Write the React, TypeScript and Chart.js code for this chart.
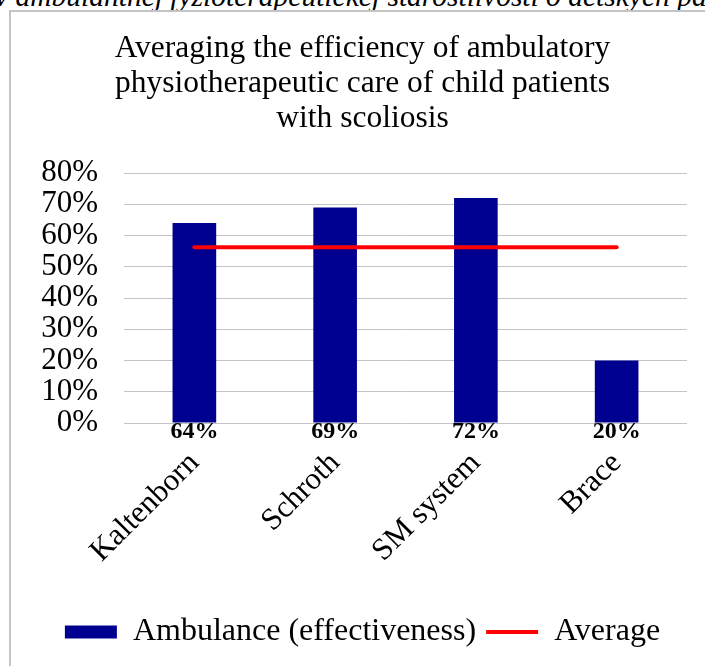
import React, { useEffect, useRef } from "react";
import { Chart, registerables } from "chart.js";

Chart.register(...registerables);

const categories = ["Kaltenborn", "Schroth", "SM system", "Brace"];
const effectiveness = [64, 69, 72, 20];
const averageValues = [56.25, 56.25, 56.25, 56.25];
const valueLabels = ["64%", "69%", "72%", "20%"];
const titleLines = [
  "Averaging the efficiency of ambulatory",
  "physiotherapeutic care of child patients",
  "with scoliosis",
];
const topCaption = "v ambulantnej fyzioterapeutickej starostlivosti o detských pa";

const SERIF = '"Liberation Serif", "Times New Roman", serif';

const dataLabelPlugin = {
  id: "baseLabels",
  afterDatasetsDraw(chart: any) {
    const meta = chart.getDatasetMeta(0);
    const y0 = chart.scales.y.getPixelForValue(0);
    const ctx = chart.ctx;
    ctx.save();
    ctx.font = `bold 24px ${SERIF}`;
    ctx.fillStyle = "#000000";
    ctx.textAlign = "center";
    ctx.textBaseline = "middle";
    meta.data.forEach((el: any, i: number) => {
      ctx.fillText(valueLabels[i], el.x, y0 + 9);
    });
    ctx.restore();
  },
};

export default function App() {
  const canvasRef = useRef<HTMLCanvasElement | null>(null);

  useEffect(() => {
    const prevMargin = document.body.style.margin;
    document.body.style.margin = "0";
    if (!canvasRef.current) return;
    const chart = new Chart(canvasRef.current, {
      type: "bar",
      data: {
        labels: categories,
        datasets: [
          {
            type: "bar",
            label: "Ambulance (effectiveness)",
            data: effectiveness,
            backgroundColor: "#000090",
            borderWidth: 0,
            categoryPercentage: 1,
            barPercentage: 0.31,
            order: 1,
          },
          {
            type: "line",
            label: "Average",
            data: averageValues,
            borderColor: "#ff0000",
            backgroundColor: "#ff0000",
            borderWidth: 4,
            pointRadius: 0,
            borderCapStyle: "round",
            order: 0,
          } as any,
        ],
      },
      options: {
        responsive: false,
        animation: false,
        layout: { padding: { left: 38, right: 18, top: 0, bottom: 8 } },
        plugins: {
          tooltip: { enabled: false },
          title: {
            display: true,
            text: titleLines,
            color: "#000000",
            font: { family: SERIF, size: 31.5, weight: "normal", lineHeight: 35 / 31.5 },
            padding: { top: 31.5, bottom: 36.5 },
          },
          legend: {
            display: true,
            position: "bottom",
            labels: {
              color: "#000000",
              font: { family: SERIF, size: 32 },
              usePointStyle: true,
              pointStyleWidth: 52,
              boxHeight: 13,
              padding: 10,
              sort: (a: any, b: any) => a.datasetIndex - b.datasetIndex,
              generateLabels: (chart: any) =>
                chart.data.datasets.map((ds: any, i: number) => ({
                  text: ds.label,
                  fillStyle: i === 0 ? "#000090" : "#ff0000",
                  strokeStyle: i === 0 ? "#000090" : "#ff0000",
                  lineWidth: i === 0 ? 0 : 4,
                  pointStyle: i === 0 ? "rect" : "line",
                  datasetIndex: i,
                  hidden: false,
                  fontColor: "#000000",
                })),
            },
          },
        },
        scales: {
          x: {
            grid: { display: false, drawTicks: false },
            border: { display: false },
            ticks: {
              color: "#000000",
              font: { family: SERIF, size: 31 },
              minRotation: 45,
              maxRotation: 45,
              padding: 22,
            },
            afterFit: (axis: any) => {
              axis.height = 183;
            },
          },
          y: {
            min: 0,
            max: 80,
            grid: { color: "#c4c4c4", drawTicks: false, lineWidth: 1 },
            border: { display: false },
            ticks: {
              stepSize: 10,
              autoSkip: false,
              color: "#000000",
              font: { family: SERIF, size: 31 },
              padding: 26,
              callback: (v: any) => `${v}%`,
            },
            afterFit: (axis: any) => {
              axis.width = 86;
            },
          },
        },
      },
      plugins: [dataLabelPlugin],
    } as any);
    return () => {
      chart.destroy();
      document.body.style.margin = prevMargin;
    };
  }, []);

  return (
    <div
      style={{
        position: "relative",
        width: 705,
        height: 666,
        overflow: "hidden",
        background: "#ffffff",
      }}
    >
      <div
        style={{
          position: "absolute",
          left: -5,
          top: -18.5,
          whiteSpace: "nowrap",
          fontFamily: SERIF,
          fontStyle: "italic",
          fontSize: 29.5,
          lineHeight: 1,
          color: "#000000",
        }}
      >
        {topCaption}
      </div>
      <div
        style={{
          position: "absolute",
          left: 9,
          top: 10,
          width: 2,
          height: 700,
          background: "#c4c4c4",
        }}
      />
      <div
        style={{
          position: "absolute",
          left: 9,
          top: 10,
          width: 720,
          height: 2,
          background: "#c4c4c4",
        }}
      />
      <canvas
        ref={canvasRef}
        width={705}
        height={666}
        style={{ position: "absolute", left: 0, top: 0, display: "block" }}
      />
    </div>
  );
}
